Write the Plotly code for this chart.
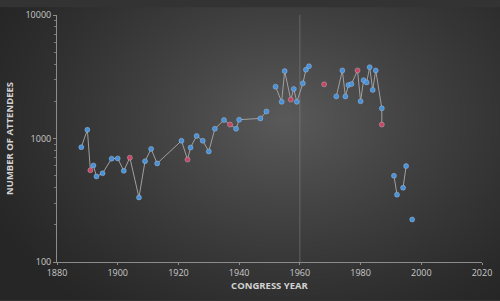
import base64, struct, zlib
import numpy as np
import plotly.graph_objects as go

# ---- data ----
years = [1888, 1890, 1891, 1892, 1893, 1895, 1898, 1900, 1902, 1904, 1907, 1909, 1911, 1913,
         1921, 1923, 1924, 1926, 1928, 1930, 1932, 1935, 1937, 1939, 1940, 1947, 1949,
         1952, 1954, 1955, 1957, 1958, 1959, 1961, 1962, 1963,
         1968,
         1972, 1974, 1975, 1976, 1977, 1979, 1980, 1981, 1982, 1983, 1984, 1985, 1987, 1987,
         1991, 1992,
         1994, 1995,
         1997]
attendees = [850, 1177, 553, 605, 493, 523, 687, 690, 547, 700, 333, 655, 824, 628,
             959, 675, 845, 1050, 959, 786, 1199, 1412, 1296, 1199, 1419, 1455, 1653,
             2630, 1981, 3513, 2065, 2520, 1981, 2795, 3605, 3847,
             2745,
             2193, 3557, 2193, 2711, 2760, 3557, 2003, 2968, 2846, 3779, 2475, 3557, 1754, 1296,
             499, 351,
             399, 598,
             221]
kinds = ["b", "b", "r", "b", "b", "b", "b", "b", "b", "r", "b", "b", "b", "b",
         "b", "r", "b", "b", "b", "b", "b", "b", "r", "b", "b", "b", "b",
         "b", "b", "b", "r", "b", "b", "b", "b", "b",
         "r",
         "b", "b", "b", "b", "b", "r", "b", "b", "b", "b", "b", "b", "b", "r",
         "b", "b",
         "b", "b",
         "b"]
# line breaks after these point indices
break_after = [26, 35, 36, 50, 52, 54]

x_ticks = [1880, 1900, 1920, 1940, 1960, 1980, 2000, 2020]
y_ticks = [100, 1000, 10000]
y_minor = [200, 300, 400, 500, 600, 700, 800, 900,
           2000, 3000, 4000, 5000, 6000, 7000, 8000, 9000]

# ---- build line with gaps ----
lx, ly = [], []
for i, (yr, v) in enumerate(zip(years, attendees)):
    lx.append(yr); ly.append(v)
    if i in break_after:
        lx.append(None); ly.append(None)

colors = {"b": "#4a90d6", "r": "#c9445f"}
mcol = [colors[k] for k in kinds]

# ---- background radial gradient png ----
W, H = 500, 301
yy, xx = np.mgrid[0:H, 0:W]
r = np.sqrt(((xx - 285) / 330.0) ** 2 + ((yy - 115) / 250.0) ** 2)
t = np.clip(1 - r, 0, 1) ** 1.2
val = 0x26 + (0x5a - 0x26) * t
arr = np.stack([val, val, val], axis=-1).astype(np.uint8)

def png_uri(a):
    h, w, _ = a.shape
    raw = b"".join(b"\x00" + a[i].tobytes() for i in range(h))
    def chunk(tag, data):
        c = struct.pack(">I", len(data)) + tag + data
        return c + struct.pack(">I", zlib.crc32(tag + data) & 0xffffffff)
    png = b"\x89PNG\r\n\x1a\n" + chunk(b"IHDR", struct.pack(">IIBBBBB", w, h, 8, 2, 0, 0, 0)) \
        + chunk(b"IDAT", zlib.compress(raw, 9)) + chunk(b"IEND", b"")
    return "data:image/png;base64," + base64.b64encode(png).decode()

ml, mr, mt, mb = 57, 18, 8, 39
pw, ph = W - ml - mr, H - mt - mb

fig = go.Figure()
fig.add_trace(go.Scatter(x=lx, y=ly, mode="lines", line=dict(color="#a0a0a0", width=1),
                         hoverinfo="skip", showlegend=False, connectgaps=False))
fig.add_trace(go.Scatter(x=years, y=attendees, mode="markers",
                         marker=dict(size=5, color=mcol,
                                     line=dict(width=0.6, color="rgba(190,215,245,0.6)")),
                         showlegend=False))

fig.add_shape(type="line", xref="x", yref="paper", x0=1960, x1=1960, y0=0, y1=1,
              line=dict(color="rgba(140,140,140,0.5)", width=1), layer="below")

fig.add_layout_image(dict(source=png_uri(arr), xref="paper", yref="paper",
                          x=-ml / pw, y=1 + mt / ph, sizex=W / pw, sizey=H / ph,
                          xanchor="left", yanchor="top", sizing="stretch", layer="below"))

axis_font = dict(family="Open Sans, Liberation Sans, sans-serif", size=9, color="#c9c9c9")
title_font = dict(family="Open Sans, Liberation Sans, sans-serif", size=9.5, color="#d2d2d2")

fig.update_layout(
    width=W, height=H,
    margin=dict(l=ml, r=mr, t=mt, b=mb),
    paper_bgcolor="#333333",
    plot_bgcolor="rgba(0,0,0,0)",
    xaxis=dict(range=[1880, 2020], tickvals=x_ticks, ticktext=[str(v) for v in x_ticks],
               showgrid=False, zeroline=False, showline=True, linecolor="#8c8c8c", linewidth=1,
               ticks="outside", ticklen=2, tickcolor="#8c8c8c", tickfont=axis_font,
               title=dict(text="<b>CONGRESS YEAR</b>", font=title_font, standoff=4)),
    yaxis=dict(type="log", range=[2, 4], tickvals=y_ticks, ticktext=[str(v) for v in y_ticks],
               showgrid=False, zeroline=False, showline=True, linecolor="#8c8c8c", linewidth=1,
               ticks="outside", ticklen=3, tickcolor="#8c8c8c", tickfont=axis_font,
               minor=dict(tickmode="array", tickvals=y_minor, ticks="outside", ticklen=2,
                          tickcolor="#7a7a7a", showgrid=False),
               title=dict(text="<b>NUMBER OF ATTENDEES</b>", font=title_font, standoff=10)),
)

fig.write_html("out.html")
